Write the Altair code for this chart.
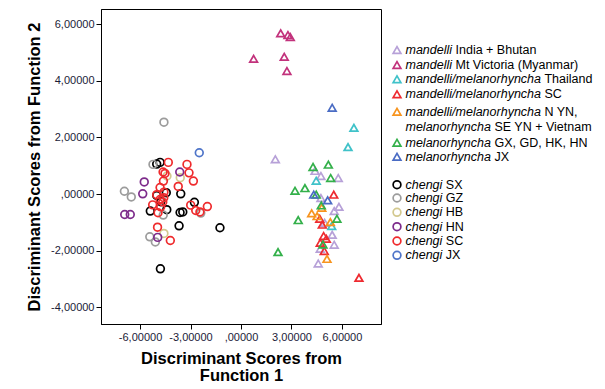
import altair as alt
import pandas as pd

# ---------------- data ----------------
groups = [
    "mandelli India + Bhutan",
    "mandelli Mt Victoria (Myanmar)",
    "mandelli/melanorhyncha Thailand",
    "mandelli/melanorhyncha SC",
    "mandelli/melanorhyncha N YN, melanorhyncha SE YN + Vietnam",
    "melanorhyncha GX, GD, HK, HN",
    "melanorhyncha JX",
    "chengi SX",
    "chengi GZ",
    "chengi HB",
    "chengi HN",
    "chengi SC",
    "chengi JX",
]
kinds = ["triangle"] * 7 + ["circle"] * 6
colors = ["#b7a1d8", "#c2327c", "#40c2c9", "#ee2a30", "#f7941e", "#33b04a", "#4a6cc4",
          "#000000", "#9c9c9c", "#d3c98f", "#7d2b8b", "#ef2b2d", "#4f75c9"]

# legend text: italic part, regular part (second line for the orange entry)
legend_italic = ["mandelli", "mandelli", "mandelli/melanorhyncha", "mandelli/melanorhyncha",
                 "mandelli/melanorhyncha", "melanorhyncha", "melanorhyncha",
                 "chengi", "chengi", "chengi", "chengi", "chengi", "chengi"]
legend_regular = ["India + Bhutan", "Mt Victoria (Myanmar)", "Thailand", "SC", "N YN,",
                  "GX, GD, HK, HN", "JX", "SX", "GZ", "HB", "HN", "SC", "JX"]
legend_line2_italic = "melanorhyncha"
legend_line2_regular = "SE YN + Vietnam"

india_x = [2.04, 4.40, 4.75, 5.78, 4.75, 5.82, 5.54, 4.97, 5.42, 5.54, 4.71, 4.59]
india_y = [1.23, 0.82, 0.64, 0.57, -0.14, -0.45, -0.60, -1.01, -1.44, -1.79, -1.93, -2.45]

victoria_x = [2.36, 2.79, 2.93, 0.75, 2.57, 2.73]
victoria_y = [5.68, 5.62, 5.55, 4.78, 4.85, 4.35]

thailand_x = [6.71, 6.36, 4.47, 5.39]
thailand_y = [2.34, 1.66, 0.47, -1.13]

msc_x = [5.51, 4.68, 4.83, 4.91, 5.07, 4.71, 4.95, 7.01]
msc_y = [-0.02, -0.87, -1.08, -1.48, -1.58, -1.72, -2.01, -2.96]

nyn_x = [4.20, 4.52, 4.80, 5.31, 5.11]
nyn_y = [-0.68, -0.78, -0.48, -0.99, -2.29]

gx_x = [4.28, 5.19, 5.33, 3.21, 3.80, 4.47, 3.40, 5.70, 2.20, 4.77, 4.87]
gx_y = [0.96, 1.04, 0.57, 0.12, 0.21, -0.02, -0.92, -0.87, -2.05, -0.40, -1.78]

mjx_x = [5.42, 4.32, 5.15]
mjx_y = [3.05, -0.02, -0.22]

sx_x = [-5.01, -4.81, -4.44, -5.01, -3.58, -4.77, -5.39, -4.41, -3.62, -3.46, -2.77, -3.68, -1.25, -4.79]
sx_y = [1.06, 1.12, 0.05, -0.05, 0.01, -0.27, -0.60, -0.55, -0.65, -0.63, -0.29, -1.12, -1.19, -2.64]

gz_x = [-4.58, -5.23, -6.93, -6.52, -4.62, -2.39, -5.42, -5.09]
gz_y = [2.54, 1.05, 0.10, -0.10, -0.74, -0.67, -1.51, -1.69]

hb_x = [-4.40, -3.61, -4.58]
hb_y = [0.64, 0.58, -1.39]

hn_x = [-5.75, -5.84, -3.64, -6.91, -6.58, -4.95]
hn_y = [0.43, 0.01, 0.78, -0.72, -0.72, -1.53]

csc_x = [-4.32, -3.21, -4.63, -4.52, -3.09, -4.61, -2.83, -4.81, -3.73, -5.01, -4.58, -4.81,
         -4.65, -5.25, -4.77, -4.93, -2.99, -2.69, -2.44, -2.00, -4.96, -4.20, -4.59]
csc_y = [1.12, 1.05, 0.78, 0.73, 0.75, 0.46, 0.46, 0.23, 0.27, -0.02, 0.07, -0.19,
         -0.28, -0.38, -0.45, -0.66, -0.39, -0.58, -0.63, -0.44, -1.17, -1.64, -0.13]

cjx_x = [-2.48]
cjx_y = [1.46]

x_ticks = [-6, -3, 0, 3, 6]
y_ticks = [-4, -2, 0, 2, 4, 6]

series = [(india_x, india_y), (victoria_x, victoria_y), (thailand_x, thailand_y),
          (msc_x, msc_y), (nyn_x, nyn_y), (gx_x, gx_y), (mjx_x, mjx_y),
          (sx_x, sx_y), (gz_x, gz_y), (hb_x, hb_y), (hn_x, hn_y), (csc_x, csc_y), (cjx_x, cjx_y)]

rows = []
for g, k, (xs, ys) in zip(groups, kinds, series):
    for xv, yv in zip(xs, ys):
        rows.append({"group": g, "kind": k, "x": xv, "y": yv})
df = pd.DataFrame(rows)

# ---------------- styling / layout ----------------
FONT = "Liberation Sans"
LEG_FS = 12.5
PLOT_W, PLOT_H = 280, 315
LEG_W = 208
SYM_SIZE = 60
STROKE_W = 1.7

color_scale = alt.Scale(domain=groups, range=colors)
shape_scale = alt.Scale(domain=["triangle", "circle"], range=["triangle-up", "circle"])

label_expr = ("datum.value == 0 ? ',00000' : (datum.value < 0 ? '-' : '') + "
              "replace(format(abs(datum.value), '.5f'), '.', ',')")

axis_common = dict(grid=False, labelExpr=label_expr, labelFont=FONT, labelFontSize=11,
                   labelColor="#1b1b38", tickColor="black", domainColor="black",
                   tickSize=5, labelPadding=2, titleFont=FONT, titleFontSize=16.5,
                   titleFontWeight="bold", titleColor="black")

plot = alt.Chart(df).mark_point(filled=False, strokeWidth=STROKE_W, size=SYM_SIZE, opacity=1).encode(
    x=alt.X("x:Q", scale=alt.Scale(domain=[-8.32, 8.32], nice=False, zero=False),
            axis=alt.Axis(values=x_ticks, title=["Discriminant Scores from", "Function 1"],
                          titlePadding=8, titleLineHeight=17.5, **axis_common)),
    y=alt.Y("y:Q", scale=alt.Scale(domain=[-4.59, 6.54], nice=False, zero=False),
            axis=alt.Axis(values=y_ticks, title="Discriminant Scores from Function 2",
                          titlePadding=8, **axis_common)),
    color=alt.Color("group:N", scale=color_scale, legend=None),
    shape=alt.Shape("kind:N", scale=shape_scale, legend=None),
).properties(width=PLOT_W, height=PLOT_H,
             view=alt.ViewBackground(stroke="black", strokeWidth=1))

# ---------------- custom legend (mixed italic / regular text) ----------------
ARIAL_W = {"a": 556, "b": 556, "c": 500, "d": 556, "e": 556, "f": 278, "g": 556, "h": 556,
           "i": 222, "j": 222, "k": 500, "l": 222, "m": 833, "n": 556, "o": 556, "p": 556,
           "q": 556, "r": 333, "s": 500, "t": 278, "u": 556, "v": 500, "w": 722, "x": 500,
           "y": 500, "z": 500, "/": 278, " ": 278}


def text_width(s, fs):
    return sum(ARIAL_W.get(c, 556) for c in s) / 1000.0 * fs


SYM_X = 14
TXT_X = 22.5
legend_rows_y = [41, 56, 70.3, 85.3, 102.7, 133.7, 147.7, 175.7, 189, 203.3, 217.7, 232, 246.3]
line2_y = 117.7

leg = []
for g, k, it, rg, ly in zip(groups, kinds, legend_italic, legend_regular, legend_rows_y):
    leg.append({"group": g, "kind": k, "sym": True, "ital": it, "reg": rg, "ly": ly,
                "sx": SYM_X, "ix": TXT_X, "rx": TXT_X + text_width(it + " ", LEG_FS)})
leg.append({"group": groups[4], "kind": "triangle", "sym": False, "ital": legend_line2_italic,
            "reg": legend_line2_regular, "ly": line2_y, "sx": SYM_X, "ix": TXT_X,
            "rx": TXT_X + text_width(legend_line2_italic + " ", LEG_FS)})
leg_df = pd.DataFrame(leg)

lx = alt.Scale(domain=[0, LEG_W], nice=False, zero=False)
ly = alt.Scale(domain=[0, PLOT_H], nice=False, zero=False, reverse=True)

leg_base = alt.Chart(leg_df)
leg_sym = leg_base.transform_filter("datum.sym").mark_point(
    filled=False, strokeWidth=STROKE_W, size=SYM_SIZE, opacity=1).encode(
    x=alt.X("sx:Q", scale=lx, axis=None),
    y=alt.Y("ly:Q", scale=ly, axis=None),
    color=alt.Color("group:N", scale=color_scale, legend=None),
    shape=alt.Shape("kind:N", scale=shape_scale, legend=None),
)
leg_it = leg_base.mark_text(align="left", baseline="middle", font=FONT, fontSize=LEG_FS,
                            fontStyle="italic", color="black").encode(
    x=alt.X("ix:Q", scale=lx, axis=None), y=alt.Y("ly:Q", scale=ly, axis=None), text="ital:N")
leg_rg = leg_base.mark_text(align="left", baseline="middle", font=FONT, fontSize=LEG_FS,
                            color="black").encode(
    x=alt.X("rx:Q", scale=lx, axis=None), y=alt.Y("ly:Q", scale=ly, axis=None), text="reg:N")

legend = alt.layer(leg_sym, leg_it, leg_rg).properties(width=LEG_W, height=PLOT_H)

chart = alt.hconcat(plot, legend, spacing=0).resolve_scale(
    x="independent", y="independent"
).properties(
    padding={"left": 18, "top": 0, "right": 0, "bottom": 0}
).configure_view(stroke="transparent")

chart.save("out.html", embed_options={"renderer": "svg", "actions": False})
